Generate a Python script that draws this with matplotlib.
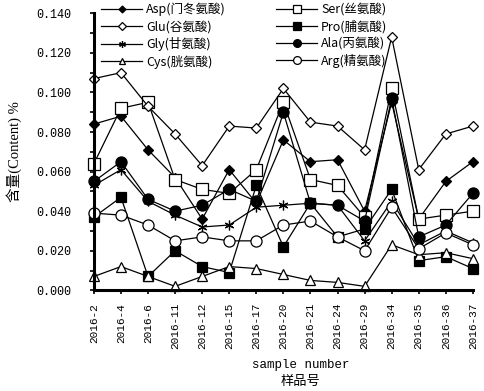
import matplotlib
matplotlib.use("Agg")
import matplotlib.pyplot as plt
from matplotlib.ticker import MultipleLocator, FormatStrFormatter

categories = ['2016-2', '2016-4', '2016-6', '2016-11', '2016-12', '2016-15', '2016-17',
              '2016-20', '2016-21', '2016-24', '2016-29', '2016-34', '2016-35', '2016-36', '2016-37']

asp = [0.084, 0.088, 0.071, 0.057, 0.036, 0.061, 0.044, 0.076, 0.065, 0.066, 0.040, 0.095, 0.036, 0.055, 0.065]
ser = [0.064, 0.092, 0.095, 0.056, 0.051, 0.049, 0.061, 0.095, 0.056, 0.053, 0.037, 0.102, 0.036, 0.038, 0.040]
glu = [0.107, 0.110, 0.093, 0.079, 0.063, 0.083, 0.082, 0.102, 0.085, 0.083, 0.071, 0.128, 0.061, 0.079, 0.083]
pro = [0.037, 0.047, 0.007, 0.020, 0.012, 0.009, 0.053, 0.022, 0.044, 0.027, 0.031, 0.051, 0.015, 0.017, 0.011]
gly = [0.053, 0.061, 0.045, 0.038, 0.032, 0.033, 0.042, 0.043, 0.044, 0.043, 0.025, 0.045, 0.023, 0.030, 0.024]
ala = [0.055, 0.065, 0.046, 0.040, 0.043, 0.051, 0.045, 0.090, 0.044, 0.043, 0.035, 0.097, 0.027, 0.033, 0.049]
cys = [0.007, 0.012, 0.007, 0.002, 0.007, 0.012, 0.011, 0.008, 0.005, 0.004, 0.002, 0.023, 0.018, 0.019, 0.016]
arg = [0.039, 0.038, 0.033, 0.025, 0.027, 0.025, 0.025, 0.033, 0.035, 0.027, 0.020, 0.042, 0.021, 0.029, 0.023]

names = ['Asp(门冬氨酸)', 'Ser(丝氨酸)', 'Glu(谷氨酸)', 'Pro(脯氨酸)',
         'Gly(甘氨酸)', 'Ala(丙氨酸)', 'Cys(胱氨酸)', 'Arg(精氨酸)']

cjk = ['Noto Sans CJK SC', 'DejaVu Sans']
num_font = ['Liberation Mono', 'Noto Sans CJK SC']
lab_font = ['Liberation Serif', 'Noto Sans CJK SC']

fig = plt.figure(figsize=(4.84, 3.91), dpi=100)
ax = fig.add_axes([0.194, 0.2575, 0.783, 0.7085])

x = list(range(len(categories)))
# marker, filled?, size
styles = [('D', True, 5), ('s', False, 8), ('D', False, 5.5), ('s', True, 7.5),
          ((6, 2, 0), False, 7), ('o', True, 8), ('^', False, 6.5), ('o', False, 8)]
series = [asp, ser, glu, pro, gly, ala, cys, arg]

handles = []
for vals, name, (mk, filled, ms) in zip(series, names, styles):
    h, = ax.plot(x, vals, color='black', lw=0.9, marker=mk, ms=ms,
                 mfc='black' if filled else 'white', mec='black', mew=0.9,
                 label=name, clip_on=False)
    handles.append(h)

ax.set_xlim(0, 14)
ax.set_ylim(0, 0.14)
ax.yaxis.set_major_locator(MultipleLocator(0.02))
ax.yaxis.set_minor_locator(MultipleLocator(0.01))
ax.yaxis.set_major_formatter(FormatStrFormatter('%.3f'))
ax.set_xticks(x)
ax.set_xticklabels(categories, rotation=90, family=num_font, fontsize=8)
for t in ax.get_yticklabels():
    t.set_family(num_font)
    t.set_fontsize(8.5)

for s in ['top', 'right']:
    ax.spines[s].set_visible(False)
for s in ['left', 'bottom']:
    ax.spines[s].set_linewidth(2.2)
ax.tick_params(axis='y', which='both', direction='out', length=3, width=1.2, pad=13)
ax.tick_params(axis='x', direction='out', length=3, width=1.2, pad=6)

ax.set_ylabel('含量(Content) %', family=lab_font, fontsize=10.5)
ax.yaxis.set_label_coords(-0.19, 0.5)

fig.text(301 / 484, 1 - 365 / 391, 'sample number', family=num_font, fontsize=9,
         ha='center', va='center')
fig.text(300 / 484, 1 - 381 / 391, '样品号', family=cjk, fontsize=9.5,
         ha='center', va='center')

# legend in two columns, Excel order
leg_kw = dict(loc='upper left', bbox_transform=fig.transFigure, frameon=False,
              prop={'family': cjk, 'size': 9}, handlelength=3.3, labelspacing=0.3,
              markerscale=0.7, handletextpad=0.3, borderaxespad=0.0, borderpad=0.0)
leg1 = ax.legend(handles[0::2], names[0::2], bbox_to_anchor=(101 / 484, 1 - 3 / 391), **leg_kw)
ax.add_artist(leg1)
ax.legend(handles[1::2], names[1::2], bbox_to_anchor=(276 / 484, 1 - 3 / 391), **leg_kw)

fig.savefig('out.png', dpi=100)
